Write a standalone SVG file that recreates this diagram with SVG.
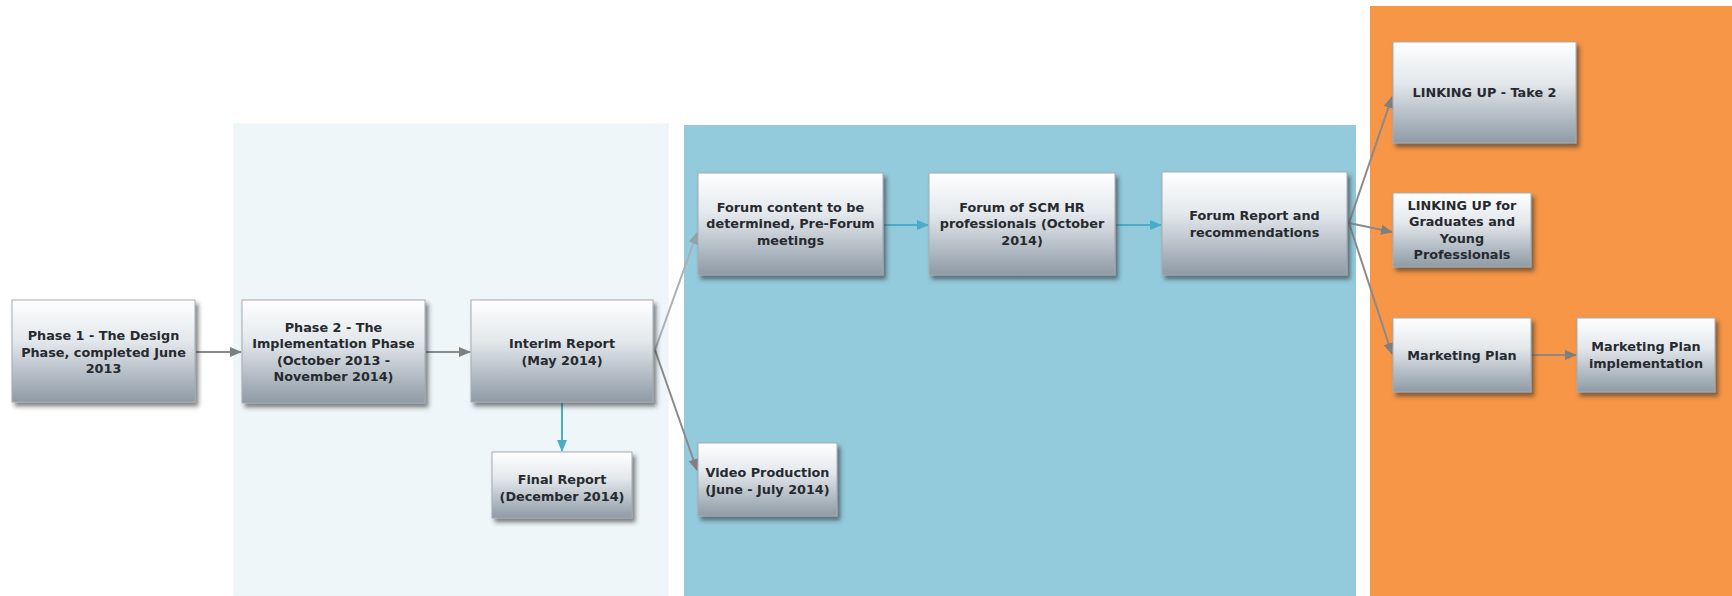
<svg xmlns="http://www.w3.org/2000/svg" width="1732" height="596" viewBox="0 0 1732 596">
<style>
.box{fill:url(#g);stroke:#a3abb3;stroke-width:1;filter:url(#sh)}
.t{font-family:"DejaVu Sans","Verdana",sans-serif;font-weight:bold;font-size:12.8px;fill:#262a2f;text-anchor:middle}
.c{fill:none;stroke:#8a8a8a;stroke-width:2}
.cl{fill:none;stroke:#a9b1b5;stroke-width:2}
.ct{fill:none;stroke:#4bacc6;stroke-width:2}
</style>
<defs>
<linearGradient id="g" x1="0" y1="0" x2="0" y2="1">
<stop offset="0" stop-color="#ffffff"/>
<stop offset="0.4" stop-color="#e3e8ec"/>
<stop offset="1" stop-color="#8e9aa5"/>
</linearGradient>
<filter id="sh" x="-10%" y="-10%" width="130%" height="140%">
<feDropShadow dx="3" dy="4" stdDeviation="2" flood-color="#333" flood-opacity="0.6"/>
</filter>
<marker id="ag" markerWidth="12" markerHeight="10" refX="11" refY="5" orient="auto" markerUnits="userSpaceOnUse">
<path d="M0,0 L12,5 L0,10 Z" fill="#7f7f7f"/>
</marker>
<marker id="at" markerWidth="12" markerHeight="10" refX="11" refY="5" orient="auto" markerUnits="userSpaceOnUse">
<path d="M0,0 L12,5 L0,10 Z" fill="#4bacc6"/>
</marker>
<marker id="al" markerWidth="12" markerHeight="10" refX="11" refY="5" orient="auto" markerUnits="userSpaceOnUse">
<path d="M0,0 L12,5 L0,10 Z" fill="#8ea3aa"/>
</marker>
</defs>
<rect width="1732" height="596" fill="#ffffff"/>
<g id="panels">
<rect x="234" y="124" width="434" height="472" fill="#eef6fa" stroke="#edf1f3" stroke-width="1"/>
<rect x="684" y="125" width="672" height="471" fill="#93cbdc"/>
<rect x="1370" y="6" width="362" height="590" fill="#f79646"/>
</g>
<g id="connectors">
<line class="c" x1="196" y1="352" x2="241" y2="352" marker-end="url(#ag)"/>
<line class="c" x1="426" y1="352" x2="470" y2="352" marker-end="url(#ag)"/>
<line class="ct" x1="562" y1="403" x2="562" y2="451" marker-end="url(#at)"/>
<line class="cl" x1="655" y1="350" x2="697" y2="233" marker-end="url(#al)"/>
<line class="c" x1="655" y1="350" x2="697" y2="470" marker-end="url(#ag)"/>
<line class="ct" x1="884" y1="225" x2="928" y2="225" marker-end="url(#at)"/>
<line class="ct" x1="1116" y1="225" x2="1161" y2="225" marker-end="url(#at)"/>
<line class="c" x1="1349" y1="223" x2="1392" y2="97" marker-end="url(#ag)"/>
<line class="c" x1="1349" y1="223" x2="1392" y2="232" marker-end="url(#ag)"/>
<line class="c" x1="1349" y1="223" x2="1392" y2="354" marker-end="url(#ag)"/>
<line class="c" x1="1532" y1="355" x2="1576" y2="355" marker-end="url(#ag)"/>
</g>
<g id="n1"><rect class="box" x="12" y="300" width="183" height="102"/>
<text class="t" x="103.5" y="340">Phase 1 - The Design</text>
<text class="t" x="103.5" y="356.5">Phase, completed June</text>
<text class="t" x="103.5" y="373">2013</text></g>
<g id="n2"><rect class="box" x="242" y="300" width="183" height="103"/>
<text class="t" x="333.5" y="331.5">Phase 2 - The</text>
<text class="t" x="333.5" y="348">Implementation Phase</text>
<text class="t" x="333.5" y="364.5">(October 2013 -</text>
<text class="t" x="333.5" y="381">November 2014)</text></g>
<g id="n3"><rect class="box" x="471" y="300" width="182" height="102"/>
<text class="t" x="562" y="348">Interim Report</text>
<text class="t" x="562" y="364.5">(May 2014)</text></g>
<g id="n4"><rect class="box" x="492" y="452" width="140" height="66"/>
<text class="t" x="562" y="484">Final Report</text>
<text class="t" x="562" y="500.5">(December 2014)</text></g>
<g id="n5"><rect class="box" x="698" y="173" width="185" height="102"/>
<text class="t" x="790.5" y="211.5">Forum content to be</text>
<text class="t" x="790.5" y="228">determined, Pre-Forum</text>
<text class="t" x="790.5" y="244.5">meetings</text></g>
<g id="n6"><rect class="box" x="929" y="173" width="186" height="102"/>
<text class="t" x="1022" y="211.5">Forum of SCM HR</text>
<text class="t" x="1022" y="228">professionals (October</text>
<text class="t" x="1022" y="244.5">2014)</text></g>
<g id="n7"><rect class="box" x="1162" y="172" width="185" height="103"/>
<text class="t" x="1254.5" y="220">Forum Report and</text>
<text class="t" x="1254.5" y="236.5">recommendations</text></g>
<g id="n8"><rect class="box" x="698" y="443" width="139" height="73"/>
<text class="t" x="767.5" y="477">Video Production</text>
<text class="t" x="767.5" y="493.5">(June - July 2014)</text></g>
<g id="n9"><rect class="box" x="1393" y="42" width="183" height="101"/>
<text class="t" x="1484.5" y="97">LINKING UP - Take 2</text></g>
<g id="n10"><rect class="box" x="1393" y="193" width="138" height="74"/>
<text class="t" x="1462" y="209.5">LINKING UP for</text>
<text class="t" x="1462" y="226">Graduates and</text>
<text class="t" x="1462" y="242.5">Young</text>
<text class="t" x="1462" y="259">Professionals</text></g>
<g id="n11"><rect class="box" x="1393" y="318" width="138" height="74"/>
<text class="t" x="1462" y="359.5">Marketing Plan</text></g>
<g id="n12"><rect class="box" x="1577" y="318" width="138" height="74"/>
<text class="t" x="1646" y="351">Marketing Plan</text>
<text class="t" x="1646" y="367.5">implementation</text></g>
</svg>
